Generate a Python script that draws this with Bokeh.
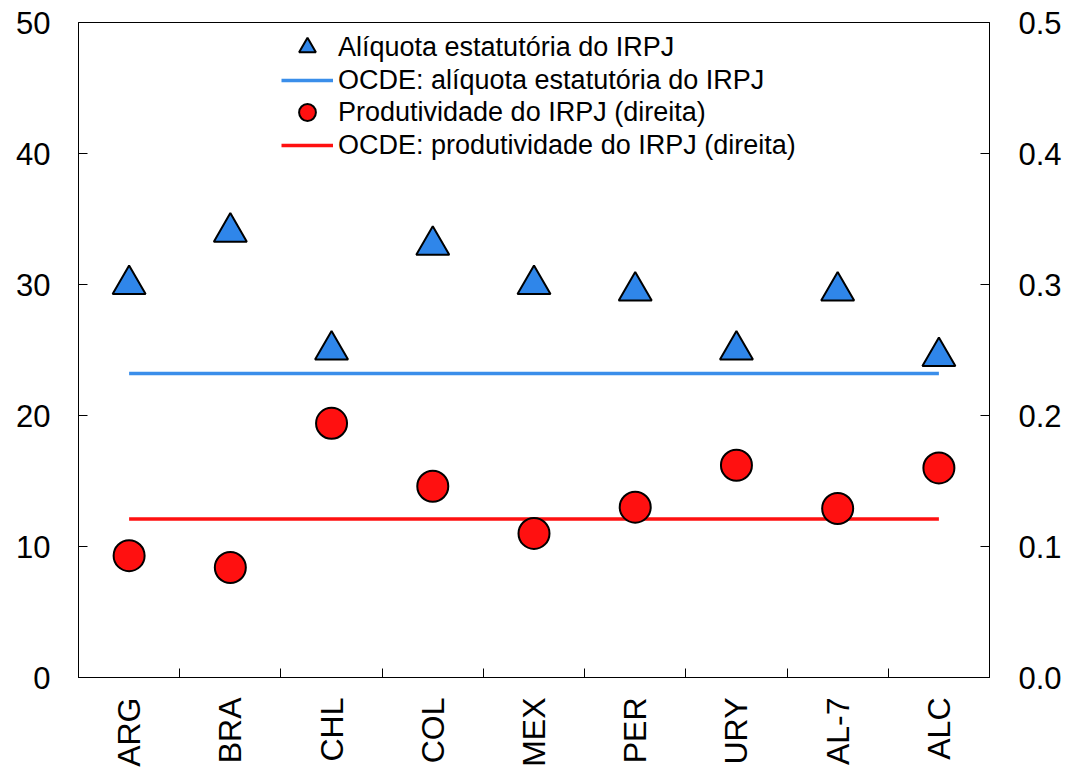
from bokeh.plotting import figure
from bokeh.models import Range1d, LinearAxis, FixedTicker, NumeralTickFormatter, Legend, LegendItem
from bokeh.embed import file_html
from bokeh.resources import INLINE
import math

categories = ["ARG", "BRA", "CHL", "COL", "MEX", "PER", "URY", "AL-7", "ALC"]
statutory_rate = [30, 34, 25, 33, 30, 29.5, 25, 29.5, 24.5]
oecd_rate = 23.2
productivity = [0.093, 0.084, 0.194, 0.146, 0.110, 0.130, 0.162, 0.129, 0.160]
oecd_productivity = 0.121
left_ticks = [0, 10, 20, 30, 40, 50]
right_ticks = [0.0, 0.1, 0.2, 0.3, 0.4, 0.5]
legend_labels = ["Alíquota estatutória do IRPJ",
                 "OCDE: alíquota estatutória do IRPJ",
                 "Produtividade do IRPJ (direita)",
                 "OCDE: produtividade do IRPJ (direita)"]

xs = list(range(len(categories)))
FONT = "Liberation Sans"
TICK_SIZE = "31px"

p = figure(width=1068, height=769, output_backend="svg", toolbar_location=None,
           x_range=Range1d(-0.5, len(categories) - 0.5), y_range=Range1d(0, 50),
           min_border_left=78, min_border_right=79, min_border_top=22, min_border_bottom=90)
p.extra_y_ranges = {"right": Range1d(0, 0.5)}
p.grid.visible = False
p.outline_line_color = "black"
p.outline_line_width = 1
p.background_fill_color = "white"
p.border_fill_color = "white"

# x axis
xa = p.xaxis[0]
xa.ticker = FixedTicker(ticks=xs, minor_ticks=[i + 0.5 for i in xs[:-1]])
xa.major_label_overrides = {i: c for i, c in enumerate(categories)}
xa.major_label_orientation = math.pi / 2
xa.major_tick_in = 0
xa.major_tick_out = 0
xa.minor_tick_in = 9
xa.minor_tick_out = 0
xa.minor_tick_line_color = "black"
xa.axis_line_color = "black"
xa.major_label_standoff = 20
xa.major_label_text_font = FONT
xa.major_label_text_font_size = "32px"
xa.major_label_text_color = "black"

# left axis
ya = p.yaxis[0]
ya.ticker = FixedTicker(ticks=left_ticks)
ya.major_tick_in = 9
ya.major_tick_out = 0
ya.minor_tick_line_color = None
ya.axis_line_color = "black"
ya.major_tick_line_color = "black"
ya.major_label_standoff = 28
ya.major_label_text_font = FONT
ya.major_label_text_font_size = TICK_SIZE
ya.major_label_text_color = "black"

# right axis
ra = LinearAxis(y_range_name="right", ticker=FixedTicker(ticks=right_ticks),
                formatter=NumeralTickFormatter(format="0.0"))
ra.major_tick_in = 9
ra.major_tick_out = 0
ra.minor_tick_line_color = None
ra.axis_line_color = "black"
ra.major_tick_line_color = "black"
ra.major_label_standoff = 29
ra.major_label_text_font = FONT
ra.major_label_text_font_size = TICK_SIZE
ra.major_label_text_color = "black"
p.add_layout(ra, "right")

blue_fill = "#2F86EA"
blue_line = "#3A8EEA"
red = "#FF1010"

r_oecd_rate = p.line(xs, [oecd_rate] * len(xs), line_color=blue_line, line_width=3.5)
r_oecd_prod = p.line(xs, [oecd_productivity] * len(xs), line_color=red, line_width=3.5,
                     y_range_name="right")
r_rate = p.scatter(xs, statutory_rate, marker="triangle", size=33, fill_color=blue_fill,
                   line_color="black", line_width=2)
r_prod = p.scatter(xs, productivity, marker="circle", size=31, fill_color=red,
                   line_color="black", line_width=2, y_range_name="right")

# one legend per row so that the row pitch and the legend marker size can both match
renderers = [r_rate, r_oecd_rate, r_prod, r_oecd_prod]
row_bottoms = [609, 576, 544, 511]
for lab, rend, yb in zip(legend_labels, renderers, row_bottoms):
    lg = Legend(items=[LegendItem(label=lab, renderers=[rend])],
                location=(203, yb), glyph_width=52, glyph_height=42, label_standoff=5,
                padding=0, margin=0, border_line_color=None, background_fill_alpha=0,
                label_text_font=FONT, label_text_font_size="27px", label_text_color="black")
    p.add_layout(lg, "center")

open("out.html", "w").write(file_html(p, INLINE))
